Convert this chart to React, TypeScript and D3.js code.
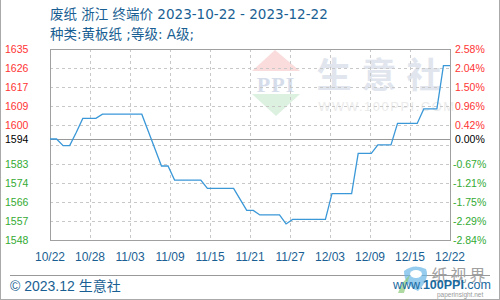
import React from "react";
import * as d3 from "d3";

// ---- data ----
const startDate = "2023-10-22";
// daily closing price (yuan/ton), 10/22 .. 12/22
const prices = [
  1594, 1594, 1591, 1591, 1597, 1603.4, 1603.4, 1603.4, 1605.3, 1605.3,
  1605.3, 1605.3, 1605.3, 1605.3, 1605.3, 1597.4, 1589.6, 1581.7, 1581.7, 1575.3,
  1575.3, 1575.3, 1575.3, 1575.3, 1571.5, 1571.5, 1571.5, 1571.5, 1571.5, 1566.5,
  1561.5, 1561.5, 1559.4, 1559.4, 1559.4, 1559.4, 1555.3, 1557.4, 1557.4, 1557.4,
  1557.4, 1557.4, 1557.4, 1569.1, 1569.1, 1569.1, 1569.1, 1587.5, 1587.5, 1587.5,
  1591.3, 1591.3, 1591.3, 1601.1, 1601.1, 1601.1, 1601.1, 1607.7, 1607.7, 1607.7,
  1627.4, 1627.4,
];
const basePrice = 1594;
const yMin = 1548;
const yMax = 1635;
const leftLabels = ["1635", "1626", "1617", "1609", "1600", "", "1583", "1574", "1566", "1557", "1548"];
const rightLabels = ["2.58%", "2.04%", "1.50%", "0.96%", "0.42%", "", "-0.67%", "-1.21%", "-1.75%", "-2.29%", "-2.84%"];
const xLabels = ["10/22", "10/28", "11/03", "11/09", "11/15", "11/21", "11/27", "12/03", "12/09", "12/15", "12/22"];
const titleLine1 = "废纸 浙江 终端价 2023-10-22 - 2023-12-22";
const titleLine2 = "种类:黄板纸 ;等级: A级;";
const footerLeft = "© 2023.12 生意社";

const W = 500;
const H = 300;
const L = 50, R = 450, T = 49, B = 240;

export default function App() {
  const n = prices.length;
  const x = d3.scaleLinear().domain([0, n - 1]).range([L, R]);
  const y = d3.scaleLinear().domain([yMin, yMax]).range([B, T]);
  const gridCount = leftLabels.length - 1;
  const gy = d3.scaleLinear().domain([0, gridCount]).range([T, B]);
  const gx = d3.scaleLinear().domain([0, xLabels.length - 1]).range([L, R]);
  const line = d3
    .line<number>()
    .x((_, i) => x(i))
    .y((d) => y(d));

  const red = "#ff3333";
  const green = "#33aa33";
  const blue = "#1a5f93";
  const axisFont = "'Liberation Sans', Arial, sans-serif";

  return (
    <svg
      width={W}
      height={H}
      style={{ position: "absolute", left: 0, top: 0, background: "#fff" }}
      data-start={startDate}
    >
      <rect x={0} y={0} width={W} height={H} fill="#fff" />
      {/* outer border */}
      <line x1={0.5} y1={0} x2={0.5} y2={H} stroke="#aaa" />
      <line x1={W - 0.5} y1={0} x2={W - 0.5} y2={H} stroke="#aaa" />
      <line x1={0} y1={H - 0.5} x2={W} y2={H - 0.5} stroke="#aaa" />

      {/* titles */}
      <text x={50} y={19} fontSize={13.5} fill={blue} fontFamily="'DejaVu Sans', 'Noto Sans CJK SC', sans-serif">
        {titleLine1}
      </text>
      <text x={50} y={39} fontSize={13.5} fill={blue} fontFamily="'DejaVu Sans', 'Noto Sans CJK SC', sans-serif">
        {titleLine2}
      </text>

      {/* watermark */}
      <g>
        <path d="M275,50 L252,71 L300,71 Z" fill="#fadcdc" />
        <text x={276} y={92} textAnchor="middle" fontSize={22} fontWeight="bold" fontFamily="'Liberation Serif', serif" fill="#d5dcea" letterSpacing={1}>
          PPI
        </text>
        <path d="M252,94 L300,94 L276,116 Z" fill="#dcf1e0" />
        <text x={384} y={88} textAnchor="middle" fontSize={35} fontWeight="bold" fontFamily="'Noto Sans CJK SC', sans-serif" fill="#e1e5ee" letterSpacing={10}>
          生意社
        </text>
        <text x={387} y={111} textAnchor="middle" fontSize={13} fontFamily="'Liberation Sans', Arial, sans-serif" fill="#ebebeb" letterSpacing={1.5}>
          WWW.100PPI.COM
        </text>
      </g>

      {/* horizontal grid */}
      {leftLabels.map((_, i) => (
        <line key={"hg" + i} x1={L} x2={R} y1={Math.round(gy(i)) + 0.5} y2={Math.round(gy(i)) + 0.5} stroke="#c8c8c8" strokeDasharray="3,3" />
      ))}
      {/* vertical grid */}
      {xLabels.map((_, i) => (
        <line key={"vg" + i} x1={Math.round(gx(i)) + 0.5} x2={Math.round(gx(i)) + 0.5} y1={T} y2={B} stroke="#c8c8c8" strokeDasharray="3,3" />
      ))}
      {/* base line */}
      <line x1={L} x2={R} y1={Math.round(y(basePrice)) + 0.5} y2={Math.round(y(basePrice)) + 0.5} stroke="#999" />
      {/* plot border */}
      <rect x={L + 0.5} y={T + 0.5} width={R - L} height={B - T} fill="none" stroke="#a0a0a0" />

      {/* price line */}
      <path d={line(prices) || ""} fill="none" stroke="#3a98d8" strokeWidth={1.3} />

      {/* left labels */}
      {leftLabels.map((t, i) =>
        t ? (
          <text key={"ll" + i} x={5} y={gy(i) + 4} fontSize={10.5} fontFamily={axisFont} fill={i < 5 ? red : green}>
            {t}
          </text>
        ) : null
      )}
      <text x={5} y={y(basePrice) + 4} fontSize={10.5} fontFamily={axisFont} fill="#000">
        {String(basePrice)}
      </text>
      {/* right labels */}
      {rightLabels.map((t, i) =>
        t ? (
          <text key={"rl" + i} x={t.startsWith("-") ? 453 : 455} y={gy(i) + 4} fontSize={10.5} fontFamily={axisFont} fill={i < 5 ? red : green}>
            {t}
          </text>
        ) : null
      )}
      <text x={455} y={y(basePrice) + 4} fontSize={10.5} fontFamily={axisFont} fill="#000">
        0.00%
      </text>

      {/* x labels */}
      {xLabels.map((t, i) => (
        <text key={"xl" + i} x={gx(i)} y={261} textAnchor="middle" fontSize={12} fontFamily={axisFont} fill={blue}>
          {t}
        </text>
      ))}

      {/* footer */}
      <line x1={10} x2={490} y1={275.5} y2={275.5} stroke="#999" />
      <text x={10} y={291} fontSize={14} fontFamily="'Liberation Sans', 'Noto Sans CJK SC', sans-serif" fill={blue}>
        {footerLeft}
      </text>
      <g>
        <path d="M404,271 Q414,263 426,269 Q430,279 418,291 Q404,285 404,271 Z" fill="#6ab6e6" opacity={0.7} />
        <ellipse cx={416} cy={274} rx={6} ry={4} fill="#fff" />
        <path d="M398,293 Q402,281 410,275 Q406,285 404,293 Z" fill="#8ccb7a" opacity={0.7} />
        <text x={460} y={281} textAnchor="middle" fontSize={16} fontFamily="'Noto Sans CJK SC', sans-serif" fill="#a0a0a0" letterSpacing={3}>
          纸视界
        </text>
        <text x={393} y={289} fontSize={12.5} fontFamily={axisFont} fill="#1a6aa0">
          www.<tspan fontWeight="bold">100PPI</tspan>.com
        </text>
        <text x={437} y={296.5} fontSize={6.5} fontFamily={axisFont} fill="#999">
          paperinsight.net
        </text>
      </g>
    </svg>
  );
}
